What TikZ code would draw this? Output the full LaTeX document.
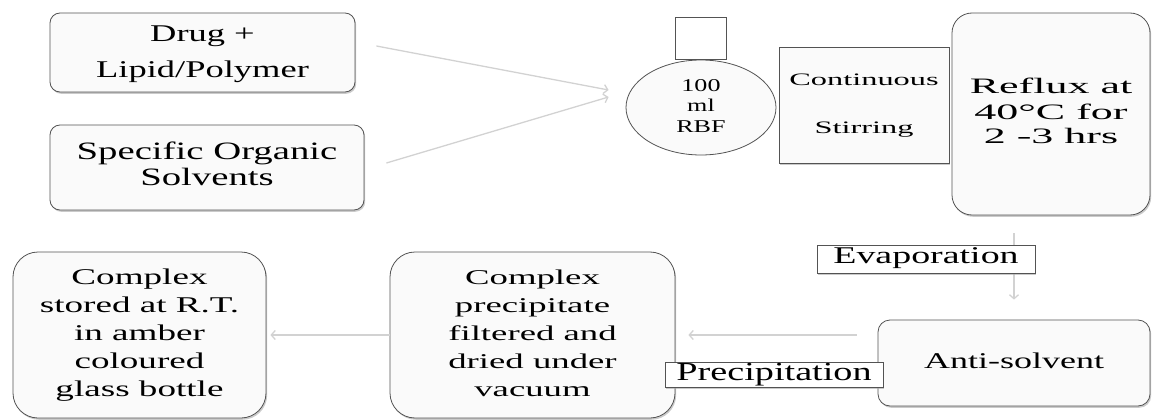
\documentclass[tikz,border=0pt]{standalone}
\usepackage{fontspec}
\setmainfont{Liberation Serif}
\usetikzlibrary{arrows.meta,shapes.geometric,shadows}

\newcommand{\widetext}[2]{\scalebox{#1}[1]{\begin{tabular}{@{}c@{}}#2\end{tabular}}}

\tikzset{
  stepbox/.style={draw=gray!65!black, fill=gray!4, line width=0.8pt, rounded corners=#1, inner sep=0pt,
    drop shadow={shadow xshift=1.2pt, shadow yshift=-1.8pt, fill=gray!70, opacity=0.6}},
  stepbox/.default=10pt,
  tagbox/.style={draw=gray!65!black, fill=white, line width=0.9pt, inner sep=0pt,
    drop shadow={shadow xshift=1.2pt, shadow yshift=-1.5pt, fill=gray!70, opacity=0.6}},
  flow/.style={draw=gray!35, line width=1.3pt, -{Straight Barb[length=4pt,width=9pt]}},
}

\begin{document}
\begin{tikzpicture}[x=1pt,y=-1pt]
\useasboundingbox (0,0) rectangle (1152,420);

\node[stepbox, minimum width=305pt, minimum height=79pt, font=\fontsize{24}{36}\selectfont] (drug) at (202.5,52.5) {\widetext{1.52}{Drug +\\Lipid/Polymer}};
\node[stepbox, minimum width=314pt, minimum height=85pt, font=\fontsize{25}{26}\selectfont] (solv) at (207,167.5) {\widetext{1.55}{Specific Organic\\Solvents}};

\node[ellipse, draw=gray!65!black, fill=gray!4, line width=0.8pt, inner sep=0pt, minimum width=150pt, minimum height=95pt, font=\fontsize{18}{20.5}\selectfont] (rbf) at (701,107.5) {\widetext{1.45}{100\\ml\\RBF}};
\node[draw=gray!65!black, fill=white, line width=0.8pt, inner sep=0pt, minimum width=51pt, minimum height=42pt, anchor=south] (neck) at (rbf.north) {};

\node[stepbox=0pt, minimum width=170pt, minimum height=116pt, font=\fontsize{17.5}{21}\selectfont] (stir) at (864,105) {\widetext{1.85}{Continuous\\[27pt]Stirring}};
\node[stepbox=20pt, minimum width=198pt, minimum height=202pt, font=\fontsize{22}{25}\selectfont] (reflux) at (1051,114) {\widetext{2.0}{Reflux at\\40°C for\\2 -3 hrs}};

\node[stepbox=12pt, minimum width=272pt, minimum height=86pt, font=\fontsize{22.5}{27}\selectfont] (anti) at (1014,363) {\widetext{1.6}{Anti-solvent}};
\node[stepbox=25pt, minimum width=285pt, minimum height=166pt, font=\fontsize{21}{28}\selectfont] (cpx) at (532.5,335) {\widetext{1.75}{Complex\\precipitate\\filtered and\\dried under\\vacuum}};
\node[stepbox=25pt, minimum width=253pt, minimum height=166pt, font=\fontsize{22.5}{28}\selectfont] (store) at (139.5,335) {\widetext{1.65}{Complex\\stored at R.T.\\in amber\\coloured\\glass bottle}};

\draw[flow] ([xshift=21pt,yshift=6.5pt]drug.east) -- ([xshift=-17pt,yshift=17.5pt]rbf.west);
\draw[flow] ([xshift=22pt,yshift=4.5pt]solv.east) -- ([xshift=-17pt,yshift=10.5pt]rbf.west);
\draw[flow, shorten <=18pt, shorten >=20pt] (reflux.south -| anti.north) -- (anti.north);
\draw[flow, shorten <=21pt, shorten >=13pt] (cpx.east -| anti.west) -- (cpx.east);
\draw[flow, shorten >=4pt] (cpx.west) -- (store.east);

\node[tagbox, minimum width=218pt, minimum height=28pt, font=\fontsize{24}{24}\selectfont] (evap) at (926,259) {\widetext{1.58}{Evaporation}};
\node[tagbox, minimum width=218pt, minimum height=24pt, font=\fontsize{26}{24}\selectfont] (prec) at (774,375) {\widetext{1.47}{Precipitation}};
\end{tikzpicture}
\end{document}
